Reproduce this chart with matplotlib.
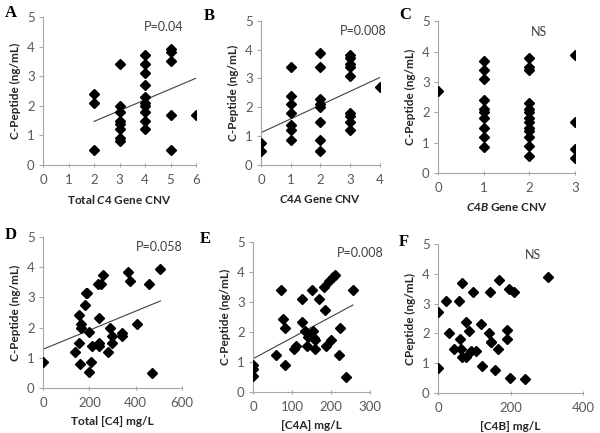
#!/usr/bin/env python
# -*- coding: utf-8 -*-

"""
C-peptide vs C4 gene copy number and C4 protein levels (six panels).
"""

import matplotlib.pyplot as plt
import numpy as np

# Panel A: total C4 gene CNV
a_x = [2, 2, 2,
       3, 3, 3, 3, 3, 3, 3, 3,
       4, 4, 4, 4, 4, 4, 4, 4, 4, 4,
       5, 5, 5, 5, 5,
       6]
a_y = [2.4, 2.1, 0.5,
       3.4, 2.0, 1.8, 1.5, 1.4, 1.2, 0.9, 0.8,
       3.7, 3.4, 3.1, 2.7, 2.3, 2.1, 2.0, 1.8, 1.5, 1.2,
       3.9, 3.8, 3.5, 1.7, 0.5,
       1.7]
a_trend = (0.365, 0.74)  # slope, intercept

# Panel B: C4A gene CNV
b_x = [0, 0,
       1, 1, 1, 1, 1, 1, 1,
       2, 2, 2, 2, 2, 2, 2, 2,
       3, 3, 3, 3, 3, 3, 3, 3, 3,
       4]
b_y = [0.75, 0.5,
       3.4, 2.4, 2.1, 1.8, 1.4, 1.2, 0.85,
       3.9, 3.4, 2.3, 2.1, 2.0, 1.5, 0.85, 0.5,
       3.8, 3.7, 3.5, 3.4, 3.1, 1.8, 1.7, 1.5, 1.2,
       2.7]
b_trend = (0.478, 1.12)

# Panel C: C4B gene CNV
c_x = [0,
       1, 1, 1, 1, 1, 1, 1, 1, 1, 1,
       2, 2, 2, 2, 2, 2, 2, 2, 2, 2, 2, 2, 2,
       3, 3, 3, 3]
c_y = [2.7,
       3.7, 3.4, 3.1, 2.4, 2.1, 2.0, 1.8, 1.5, 1.2, 0.85,
       3.8, 3.5, 3.4, 2.3, 2.1, 2.0, 1.8, 1.7, 1.5, 1.4, 1.2, 0.9, 0.55,
       3.9, 1.7, 0.8, 0.5]

# Panel D: total [C4] mg/L
d_x = [0, 137, 156, 154, 163, 163, 159, 181, 185, 191, 199, 199, 205, 211,
       238, 250, 243, 243, 243, 257, 279, 289, 299, 299, 342, 342, 368, 373,
       405, 458, 470, 506]
d_y = [0.85, 1.2, 1.5, 2.4, 2.1, 2.0, 0.78, 2.73, 3.13, 3.13, 1.84, 0.54, 0.87, 1.4,
       3.44, 3.44, 2.3, 1.5, 1.4, 3.73, 1.2, 2.0, 1.71, 1.5, 1.81, 1.71, 3.83, 3.53,
       2.1, 3.44, 0.49, 3.94]
d_trend = (0.00316, 1.28)

# Panel E: [C4A] mg/L
e_x = [0, 0, 0, 59, 83, 72, 76, 81, 105, 110, 125, 126, 133, 138, 142, 152,
       155, 157, 159, 158, 170, 183, 185, 186, 195, 201, 205, 210, 220, 222,
       238, 256]
e_y = [0.89, 0.78, 0.54, 1.22, 0.91, 3.42, 2.42, 2.13, 1.42, 1.53, 2.33, 3.11,
       2.02, 1.53, 1.84, 3.42, 2.02, 1.81, 1.72, 1.42, 3.11, 3.52, 2.72, 1.53,
       3.72, 1.72, 3.83, 3.92, 1.22, 2.13, 0.5, 3.42]
e_trend = (0.0070, 1.11)

# Panel F: [C4B] mg/L
f_x = [0, 0, 23, 30, 44, 59, 60, 64, 66, 66, 77, 78, 85, 90, 97, 106, 118,
       121, 140, 143, 145, 147, 156, 167, 165, 190, 190, 195, 198, 208, 241, 302]
f_y = [0.85, 2.71, 3.09, 2.0, 1.49, 3.09, 1.8, 1.49, 3.69, 1.2, 2.39, 1.2, 2.09,
       1.4, 3.39, 1.4, 2.3, 0.89, 2.0, 3.39, 1.7, 1.7, 0.78, 3.8, 1.49, 2.1, 1.8,
       3.5, 0.5, 3.39, 0.48, 3.91]

TICK_GREY = "#595959"

plt.rcParams["font.family"] = ["Lato", "DejaVu Sans"]
plt.rcParams["mathtext.fontset"] = "custom"
plt.rcParams["mathtext.rm"] = "Lato:bold"
plt.rcParams["mathtext.it"] = "Lato:italic:bold"
plt.rcParams["mathtext.bf"] = "Lato:bold"


def draw_panel(rect, xs, ys, letter, letter_xy, xlabel, xticks, note, note_x,
               trend=None, ylabel="C-Peptide (ng/mL)"):
    ax = fig.add_axes(rect)
    ax.plot(xs, ys, linestyle="none", marker="D", markersize=4.6,
            color="black", zorder=3)

    # Linear trend line across the data range.
    if trend is not None:
        k, b = trend
        lx = np.array([min(xs), max(xs)])
        ax.plot(lx, k * lx + b, color="#404040", linewidth=0.8, zorder=2)

    ax.set_xlim(xticks[0], xticks[-1])
    ax.set_ylim(0, 5)
    ax.set_xticks(xticks)
    ax.set_yticks(range(6))

    for side in ("top", "right"):
        ax.spines[side].set_visible(False)
    for side in ("left", "bottom"):
        ax.spines[side].set_color("#a6a6a6")
        ax.spines[side].set_linewidth(0.8)
    ax.tick_params(axis="both", colors="#a6a6a6", labelcolor=TICK_GREY,
                   labelsize=9.5, length=3, width=0.8)
    ax.tick_params(axis="x", direction="inout", pad=5)
    ax.tick_params(axis="y", direction="out", pad=3)

    ax.set_xlabel(xlabel, fontsize=8.5, fontweight="bold", color="#262626",
                  labelpad=5)
    ax.set_ylabel(ylabel, fontsize=8.5, fontweight="bold", color="#262626",
                  labelpad=4)
    ax.text(note_x, 0.97, note, transform=ax.transAxes, fontsize=9,
            color="#404040", ha="left", va="top")

    # Panel letter, placed in figure pixels.
    fig.text(letter_xy[0] / 600, 1 - letter_xy[1] / 433, letter, fontsize=12,
             fontweight="bold", family="Liberation Serif", ha="left", va="center")
    return ax


fig = plt.figure(figsize=(6, 4.33), dpi=100)

draw_panel([0.0717, 0.619, 0.255, 0.342], a_x, a_y, "A", (5, 13),
           r"Total $\mathit{C4}$ Gene CNV", [0, 1, 2, 3, 4, 5, 6],
           "P=0.04", 0.66, trend=a_trend)
draw_panel([0.435, 0.619, 0.198, 0.333], b_x, b_y, "B", (204, 16),
           r"$\mathit{C4A}$ Gene CNV", [0, 1, 2, 3, 4],
           "P=0.008", 0.66, trend=b_trend)
draw_panel([0.73, 0.600, 0.228, 0.351], c_x, c_y, "C", (399, 15),
           r"$\mathit{C4B}$ Gene CNV", [0, 1, 2, 3],
           "NS", 0.68)
draw_panel([0.0717, 0.104, 0.232, 0.349], d_x, d_y, "D", (5, 235),
           "Total [C4] mg/L", [0, 200, 400, 600],
           "P=0.058", 0.67, trend=d_trend)
draw_panel([0.4217, 0.0947, 0.195, 0.346], e_x, e_y, "E", (200, 239),
           "[C4A] mg/L", [0, 100, 200, 300],
           "P=0.008", 0.72, trend=e_trend)
draw_panel([0.73, 0.0924, 0.242, 0.344], f_x, f_y, "F", (399, 242),
           "[C4B] mg/L", [0, 200, 400],
           "NS", 0.6, ylabel="CPeptide (ng/mL)")

plt.savefig("out.png", dpi=100)
